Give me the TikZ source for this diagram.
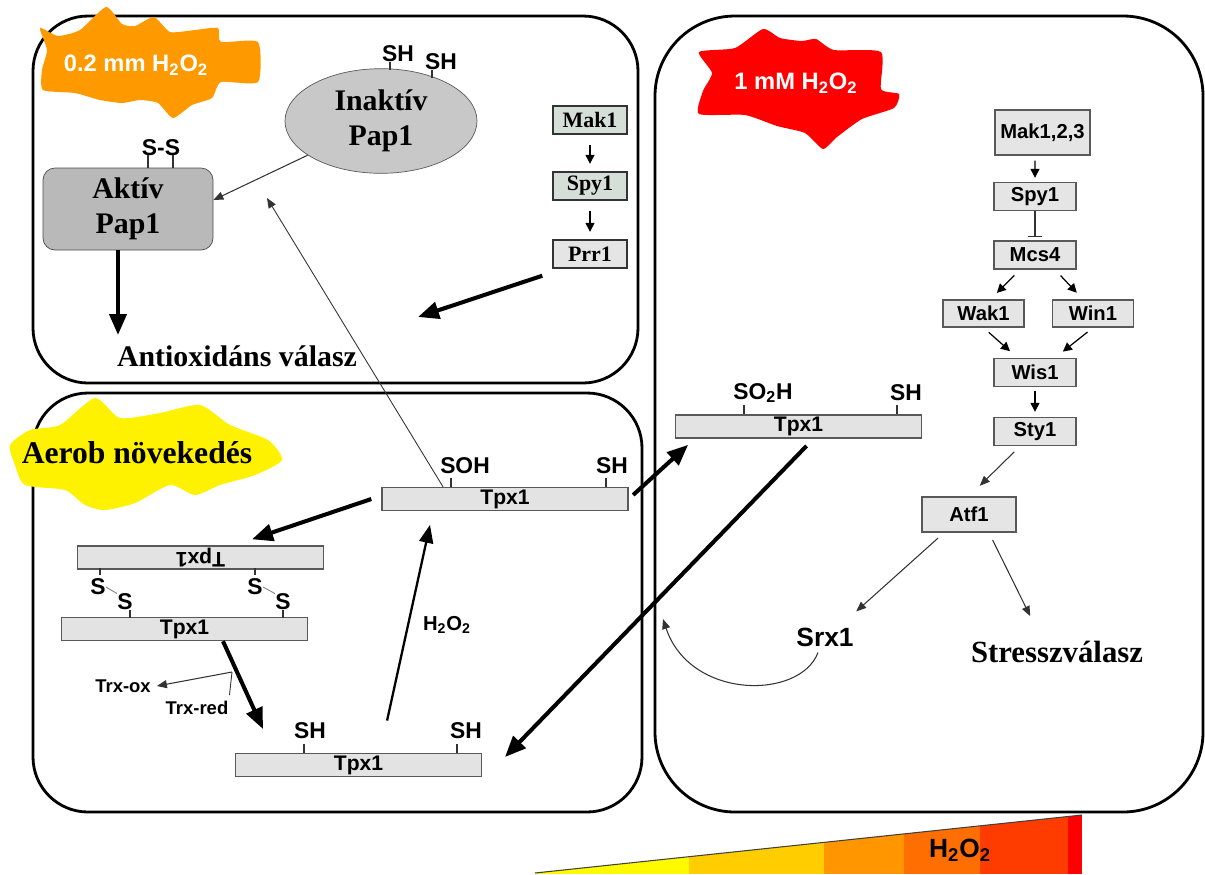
\documentclass[tikz,border=0pt]{standalone}
\usepackage{fontspec}
\setmainfont{Liberation Serif}
\setsansfont{Liberation Sans}
\usetikzlibrary{shapes.geometric, arrows.meta, positioning, calc}

\definecolor{blaze}{RGB}{255,153,0}
\definecolor{makfill}{RGB}{214,222,216}
\definecolor{grada}{RGB}{255,250,0}
\definecolor{gradb}{RGB}{255,205,0}
\definecolor{gradc}{RGB}{255,150,0}
\definecolor{gradd}{RGB}{255,110,0}
\definecolor{grade}{RGB}{255,60,0}
\definecolor{gradf}{RGB}{255,0,0}

\tikzset{
  panel/.style={draw, line width=1.6pt, rounded corners=1.1cm},
  bar/.style={draw=gray!70!black, fill=gray!22, line width=0.8pt, minimum width=4.92cm, minimum height=0.46cm, inner sep=0pt, font=\sffamily\bfseries\fontsize{12}{12}\selectfont},
  kinase/.style={draw=gray!70!black, fill=gray!20, line width=0.8pt, minimum width=1.64cm, minimum height=0.56cm, inner sep=0pt, font=\sffamily\bfseries\fontsize{11.5}{12}\selectfont},
  mapk/.style={draw=black!80, fill=makfill, line width=0.8pt, minimum width=1.48cm, minimum height=0.56cm, inner sep=0pt, font=\bfseries\fontsize{12.5}{13}\selectfont},
  cys/.style={font=\sffamily\bfseries\fontsize{13}{13}\selectfont, inner sep=0pt},
  tick/.style={gray!40!black, line width=0.8pt},
  bigtext/.style={font=\bfseries\fontsize{17}{20}\selectfont, align=center},
  blobtext/.style={text=white, font=\sffamily\bfseries\fontsize{13.5}{14}\selectfont},
  fat/.style={line width=2.3pt, -{Triangle[length=0.42cm,width=0.34cm]}},
  slim/.style={gray!40!black, line width=0.6pt, -{Triangle[length=0.2cm,width=0.16cm]}},
  small/.style={black, line width=0.7pt, -{Triangle[length=0.18cm,width=0.18cm]}}
}

\begin{document}
\begin{tikzpicture}
  \useasboundingbox (0,0) rectangle (24.1,-17.48);

  % panels
  \draw[panel] (0.66,-0.32) rectangle (12.76,-7.66);
  \draw[panel] (0.66,-7.86) rectangle (12.84,-16.24);
  \draw[panel, rounded corners=1.6cm] (13.1,-0.32) rectangle (24.06,-16.24);

  % blobs
  \fill[blaze] plot[smooth cycle, tension=0.35] coordinates {(0.8,-0.56) (1.16,-0.72) (1.6,-0.6) (2.12,-0.14) (2.44,-0.48) (2.7,-0.52) (3.08,-0.34) (3.4,-0.64) (3.9,-0.6) (4.36,-0.56) (4.42,-0.84) (5.16,-0.84) (5.16,-1.64) (4.42,-1.64) (4.24,-1.96) (3.84,-2.1) (3.46,-2.36) (3.16,-2.06) (2.8,-2.0) (2.44,-2.06) (2.0,-2.0) (1.5,-1.86) (0.86,-1.8) (0.84,-1.4) (0.94,-1.0)};
  \node[blobtext] (lowdose) at (2.72,-1.3) {0.2 mm H\textsubscript{2}O\textsubscript{2}};

  \fill[red] plot[smooth cycle, tension=0.35] coordinates {(13.98,-1.04) (14.7,-0.96) (15.26,-0.58) (15.6,-0.76) (16.04,-0.82) (16.32,-0.78) (16.68,-1.0) (17.62,-1.04) (17.62,-1.78) (17.98,-1.88) (17.88,-2.16) (17.24,-2.38) (16.74,-2.74) (16.46,-2.98) (16.1,-2.66) (15.54,-2.52) (14.9,-2.3) (13.98,-2.28) (14.06,-1.82) (14.24,-1.46)};
  \node[blobtext] (highdose) at (15.92,-1.66) {1 mM H\textsubscript{2}O\textsubscript{2}};

  \fill[yellow] plot[smooth cycle, tension=0.4] coordinates {(0.2,-8.9) (0.6,-8.6) (1.2,-8.5) (1.9,-7.96) (2.4,-8.36) (3.2,-8.26) (4.0,-8.1) (4.6,-8.5) (5.36,-8.8) (5.64,-9.2) (5.1,-9.5) (4.4,-9.7) (3.9,-9.9) (3.4,-9.7) (2.7,-10.06) (2.1,-10.2) (1.7,-10.1) (1.3,-9.8) (0.5,-9.7) (0.3,-9.3)};
  \node[bigtext, font=\bfseries\fontsize{18}{20}\selectfont] (aerob) at (2.74,-9.06) {Aerob növekedés};

  % Pap1
  \node[ellipse, draw=gray!70!black, fill=gray!43, minimum width=3.84cm, minimum height=2.04cm, bigtext] (inaktiv) at (7.62,-2.42) {Inaktív\\Pap1};
  \node[cys] (papsh1) at (7.96,-1.08) {SH};
  \node[cys] (papsh2) at (8.82,-1.24) {SH};
  \draw[tick] (7.8,-1.24) -- (7.8,-1.4);
  \draw[tick] (8.64,-1.4) -- (8.64,-1.56);

  \node[draw=gray!60!black, fill=gray!55, rounded corners=0.24cm, minimum width=3.4cm, minimum height=1.64cm, bigtext] (aktiv) at (2.56,-4.18) {Aktív\\Pap1};
  \node[cys] (disulf) at (3.22,-2.96) {S-S};
  \draw[tick] ([xshift=0.4cm]aktiv.north) -- ++(0,0.26);
  \draw[tick] ([xshift=0.9cm]aktiv.north) -- ++(0,0.26);

  \node[bigtext] (antiox) at (4.74,-7.12) {Antioxidáns válasz};
  \coordinate (valaszin) at (2.36,-6.7);
  \draw[fat] ([xshift=-0.2cm]aktiv.south) -- (valaszin);
  \draw[slim] (inaktiv.205) -- (aktiv.6);

  % Mak1 pathway
  \node[mapk] (mak1) at (11.8,-2.4) {Mak1};
  \node[mapk] (spy1) at (11.8,-3.72) {Spy1};
  \node[mapk, fill=gray!20] (prr1) at (11.8,-5.08) {Prr1};
  \draw[small, shorten <=0.2cm, shorten >=0.15cm] (mak1) -- (spy1);
  \draw[small, shorten <=0.2cm, shorten >=0.15cm] (spy1) -- (prr1);
  \coordinate (prr1in) at (8.36,-6.34);
  \draw[fat] ([shift={(-0.2cm,-0.14cm)}]prr1.south west) -- (prr1in);

  % Tpx1 cycle
  \node[bar] (tpxsoh) at (10.1,-9.98) {Tpx1};
  \node[cys] (lblsoh) at (9.3,-9.32) {SOH};
  \node[cys] (lblsoh2) at (12.24,-9.32) {SH};
  \draw[tick] ([xshift=-1.08cm]tpxsoh.north) -- ++(0,0.18);
  \draw[tick] ([xshift=2.02cm]tpxsoh.north) -- ++(0,0.18);

  \node[bar, rotate=180] (tpxflip) at (4.01,-11.15) {Tpx1};
  \node[bar] (tpxss) at (3.69,-12.58) {Tpx1};
  \node[cys] (sa1) at (1.96,-11.74) {S};
  \node[cys] (sa2) at (2.5,-12.04) {S};
  \node[cys] (sb1) at (5.1,-11.74) {S};
  \node[cys] (sb2) at (5.66,-12.04) {S};
  \draw[tick] (2.0,-11.36) -- (2.0,-11.5);
  \draw[tick] (5.1,-11.36) -- (5.1,-11.5);
  \draw[tick] (2.6,-12.2) -- (2.6,-12.36);
  \draw[tick] (5.66,-12.2) -- (5.66,-12.36);
  \draw[gray, line width=0.5pt] (sa1.east) -- (sa2.north west);
  \draw[gray, line width=0.5pt] (sb1.east) -- (sb2.north west);

  \node[bar] (tpxsh) at (7.17,-15.3) {Tpx1};
  \node[cys] (lblsh1) at (6.2,-14.62) {SH};
  \node[cys] (lblsh2) at (9.32,-14.62) {SH};
  \draw[tick] ([xshift=-1.09cm]tpxsh.north) -- ++(0,0.18);
  \draw[tick] ([xshift=1.97cm]tpxsh.north) -- ++(0,0.18);

  \node[bar] (tpxso2h) at (15.97,-8.53) {Tpx1};
  \node[cys] (lblso2h) at (15.26,-7.86) {SO\textsubscript{2}H};
  \node[cys] (lblso2h2) at (18.12,-7.86) {SH};
  \draw[tick] ([xshift=-1.09cm]tpxso2h.north) -- ++(0,0.18);
  \draw[tick] ([xshift=1.97cm]tpxso2h.north) -- ++(0,0.18);

  \coordinate (pap1in) at (5.34,-3.96);
  \draw[slim, line width=0.5pt] ([xshift=-1.24cm]tpxsoh.north) -- (pap1in);

  \draw[fat] ([xshift=-0.2cm]tpxsoh.west) -- ([xshift=1.03cm,yshift=0.12cm]tpxflip.south);
  \coordinate (redin) at (5.26,-14.58);
  \draw[fat] ([xshift=0.77cm]tpxss.south) -- (redin);

  \node[font=\sffamily\bfseries\fontsize{10.5}{11}\selectfont] (trxox) at (2.46,-13.72) {Trx-ox};
  \node[font=\sffamily\bfseries\fontsize{10.5}{11}\selectfont] (trxred) at (3.94,-14.16) {Trx-red};
  \coordinate (trxjoin) at (4.64,-13.44);
  \draw[gray!40!black, line width=0.5pt] ([xshift=-0.1cm]trxred.north east) -- (trxjoin);
  \draw[slim] (trxjoin) -- (trxox.east);

  \draw[line width=1.3pt, -{Triangle[length=0.36cm,width=0.28cm]}, shorten <=0.66cm, shorten >=0.28cm] ([xshift=0.43cm]tpxsh.north) -- ([xshift=-1.44cm]tpxsoh.south);
  \node[cys, font=\sffamily\bfseries\fontsize{11.5}{12}\selectfont] (hydro) at (8.94,-12.5) {H\textsubscript{2}O\textsubscript{2}};

  \draw[fat, shorten <=0.12cm, shorten >=0.18cm] (tpxsoh.east) -- ([xshift=0.4cm]tpxso2h.south west);
  \coordinate (shin) at (10.1,-15.14);
  \draw[fat, shorten <=0.2cm] ([xshift=0.3cm]tpxso2h.south) -- (shin);

  % stress pathway
  \node[kinase, minimum width=1.9cm, minimum height=0.9cm] (mak123) at (20.85,-2.65) {Mak1,2,3};
  \node[kinase] (spyr) at (20.7,-3.93) {Spy1};
  \node[kinase] (mcs4) at (20.7,-5.1) {Mcs4};
  \node[kinase, minimum width=1.62cm, minimum height=0.54cm] (wak1) at (19.67,-6.27) {Wak1};
  \node[kinase, minimum width=1.62cm, minimum height=0.54cm] (win1) at (21.86,-6.27) {Win1};
  \node[kinase] (wis1) at (20.7,-7.45) {Wis1};
  \node[kinase] (sty1) at (20.7,-8.63) {Sty1};
  \node[kinase, minimum width=1.88cm, minimum height=0.7cm] (atf1) at (19.38,-10.29) {Atf1};

  \draw[small, shorten <=0.1cm, shorten >=0.08cm] ([xshift=-0.15cm]mak123.south) -- (spyr.north);
  \draw[gray!40!black, line width=0.8pt, -{Bar[width=0.28cm, line width=1pt]}, shorten >=0.06cm] (spyr.south) -- (mcs4.north);
  \draw[small, shorten <=0.16cm, shorten >=0.18cm] ([xshift=-0.3cm]mcs4.south) -- ([xshift=0.14cm]wak1.north);
  \draw[small, shorten <=0.16cm, shorten >=0.18cm] ([xshift=0.4cm]mcs4.south) -- ([xshift=-0.2cm]win1.north);
  \draw[small, shorten <=0.14cm, shorten >=0.2cm] (wak1.south) -- ([xshift=-0.35cm]wis1.north);
  \draw[small, shorten <=0.14cm, shorten >=0.2cm] (win1.south) -- ([xshift=0.4cm]wis1.north);
  \draw[small, shorten <=0.08cm, shorten >=0.1cm] (wis1.south) -- (sty1.north);
  \draw[slim, shorten <=0.16cm, shorten >=0.3cm] ([xshift=-0.3cm]sty1.south) -- (atf1.north);

  \node[font=\sffamily\bfseries\fontsize{15}{16}\selectfont] (srx1) at (16.5,-12.74) {Srx1};
  \node[bigtext, font=\bfseries\fontsize{17.5}{20}\selectfont] (stressz) at (21.14,-13.04) {Stresszválasz};
  \draw[slim, shorten <=0.16cm, shorten >=0.3cm] ([xshift=-0.5cm]atf1.south) -- ([xshift=0.4cm]srx1.north);
  \draw[slim, shorten <=0.16cm, shorten >=0.42cm] ([xshift=0.4cm]atf1.south) -- ([xshift=-0.35cm]stressz.north);

  \coordinate (srxin) at (13.26,-12.38);
  \draw[slim] ([xshift=-0.14cm]srx1.south) .. controls (16.0,-14.0) and (13.8,-14.0) .. (srxin);

  % gradient
  \begin{scope}
    \clip (10.7,-17.46) -- (21.64,-16.3) -- (21.64,-17.48) -- (10.7,-17.48) -- cycle;
    \fill[grada] (10.7,-17.48) rectangle (13.8,-16.2);
    \fill[gradb] (13.78,-17.48) rectangle (16.5,-16.2);
    \fill[gradc] (16.48,-17.48) rectangle (18.1,-16.2);
    \fill[gradd] (18.08,-17.48) rectangle (19.62,-16.2);
    \fill[grade] (19.6,-17.48) rectangle (21.38,-16.2);
    \fill[gradf] (21.36,-17.48) rectangle (21.64,-16.2);
  \end{scope}
  \draw[gray!50!black, line width=0.6pt] (10.7,-17.46) -- (21.64,-16.3);
  \node[font=\sffamily\bfseries\fontsize{15}{16}\selectfont] (gradlbl) at (19.2,-17.0) {H\textsubscript{2}O\textsubscript{2}};
\end{tikzpicture}
\end{document}
